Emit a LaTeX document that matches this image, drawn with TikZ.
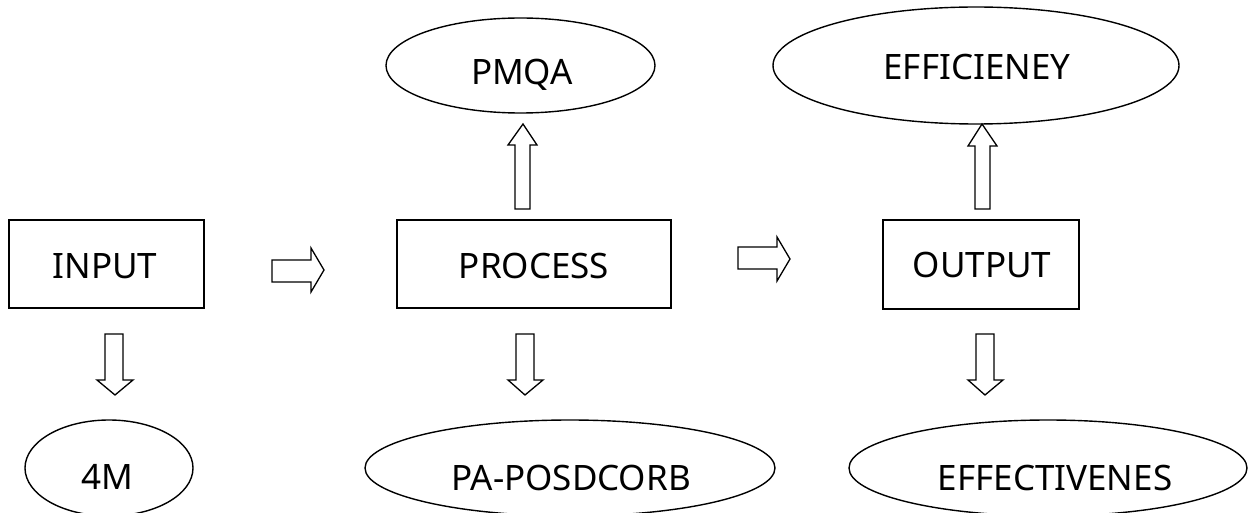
\documentclass[tikz,border=0pt]{standalone}
\usepackage{fontspec}
\setmainfont{Noto Sans}
\usetikzlibrary{shapes.geometric}
\tikzset{
  px/.style={x=1pt,y=-1pt},
  boxnode/.style={draw,line width=1.6pt,inner sep=0pt},
  ovalnode/.style={draw,ellipse,line width=1.4pt,inner sep=0pt},
  txt/.style={font=\fontsize{35}{40}\selectfont,inner sep=0pt},
  blockarrow/.style={draw,line width=1.3pt,fill=white,line join=miter}
}
\begin{document}
\begin{tikzpicture}[px]
\useasboundingbox (0,0) rectangle (1256,513);
% boxes
\node[boxnode,minimum width=195pt,minimum height=88pt] (input) at (106.5,264) {};
\node[txt] (tinput) at (105,266.5) {INPUT};
\node[boxnode,minimum width=274pt,minimum height=88pt] (process) at (534,264) {};
\node[txt] (tprocess) at (534,266) {PROCESS};
\node[boxnode,minimum width=196pt,minimum height=89pt] (output) at (981,264.5) {};
\node[txt] (toutput) at (982,265) {OUTPUT};
% ellipses
\node[ovalnode,minimum width=269pt,minimum height=95pt] (pmqa) at (520.5,65.5) {};
\node[txt] (tpmqa) at (522,75) {PMQA};
\node[ovalnode,minimum width=406pt,minimum height=117pt] (eff) at (976,65.5) {};
\node[txt] (teff) at (977,67.5) {EFFICIENEY};
\node[ovalnode,minimum width=168pt,minimum height=96pt] (fourm) at (109,468) {};
\node[txt] (tfourm) at (107,477) {4M};
\node[ovalnode,minimum width=410pt,minimum height=96pt] (posd) at (570,468) {};
\node[txt] (tposd) at (571,478) {PA-POSDCORB};
\node[ovalnode,minimum width=398pt,minimum height=96pt] (effect) at (1048,468) {};
\node[txt] (teffect) at (1055,478) {EFFECTIVENES};
% block arrows: right
\draw[blockarrow] (272,260) -- (311,260) -- (311,248) -- (324,270) -- (311,292) -- (311,282) -- (272,282) -- cycle;
\draw[blockarrow] (738,247) -- (777,247) -- (777,237) -- (790,259) -- (777,281) -- (777,269) -- (738,269) -- cycle;
% block arrows: up
\draw[blockarrow] (515,209) -- (515,145) -- (508,145) -- (523,124) -- (537,145) -- (530,145) -- (530,209) -- cycle;
\draw[blockarrow] (975,209) -- (975,146) -- (968,146) -- (982,124) -- (997,146) -- (990,146) -- (990,209) -- cycle;
% block arrows: down
\draw[blockarrow] (105,334) -- (123,334) -- (123,380) -- (133,380) -- (115,395) -- (97,380) -- (105,380) -- cycle;
\draw[blockarrow] (516,334) -- (534,334) -- (534,380) -- (543,380) -- (525,395) -- (508,380) -- (516,380) -- cycle;
\draw[blockarrow] (976,334) -- (994,334) -- (994,380) -- (1003,380) -- (985,395) -- (968,380) -- (976,380) -- cycle;
\end{tikzpicture}
\end{document}
